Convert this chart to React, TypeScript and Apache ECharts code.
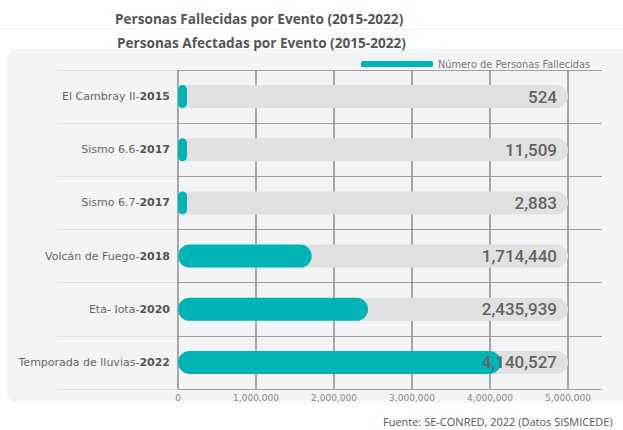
import React, { useEffect, useRef } from "react";
import * as echarts from "echarts";

const eventNames = ["El Cambray II-", "Sismo 6.6-", "Sismo 6.7-", "Volcán de Fuego-", "Eta- Iota-", "Temporada de lluvias-"];
const eventYears = ["2015", "2017", "2017", "2018", "2020", "2022"];
const affected = [524, 11509, 2883, 1714440, 2435939, 4140527];
const xTicks = [0, 1000000, 2000000, 3000000, 4000000, 5000000];
const seriesName = "Número de Personas Fallecidas";
const title1 = "Personas Fallecidas por Evento (2015-2022)";
const title2 = "Personas Afectadas por Evento (2015-2022)";
const footer = "Fuente: SE-CONRED, 2022 (Datos SISMICEDE)";

const FONT = "'Open Sans', 'Noto Sans', sans-serif";
const WIDE = "'DejaVu Sans', 'Open Sans', sans-serif";
const NUM = "Roboto, 'Liberation Sans', sans-serif";

export default function App() {
  const ref = useRef<HTMLDivElement>(null);
  useEffect(() => {
    if (!ref.current) return;
    const chart = echarts.init(ref.current, undefined, { renderer: "svg" });
    const xMax = xTicks[xTicks.length - 1];
    const cats = eventNames.map((n, i) => n + eventYears[i]);
    const fmt = (v: number) => v.toLocaleString("en-US");
    const gridTop = 70;
    const gridBottom = 41;
    chart.setOption({
      animation: false,
      backgroundColor: "#ffffff",
      title: [
        { text: title1, left: 110, top: 6, textStyle: { fontFamily: FONT, fontSize: 13.6, fontWeight: "bold", color: "#555555" } },
        { text: title2, left: 112, top: 30, textStyle: { fontFamily: FONT, fontSize: 13.6, fontWeight: "bold", color: "#555555" } },
      ],
      graphic: [
        { type: "rect", z: -10, shape: { x: 7, y: 49, width: 630, height: 354, r: 10 }, style: { fill: "#f3f4f6" } },
        { type: "line", z: -10, shape: { x1: 0, y1: 29, x2: 623, y2: 29 }, style: { stroke: "#f0f0f0", lineWidth: 1 } },
        { type: "text", x: 383, y: 421, style: { text: footer, fontFamily: FONT, fontSize: 11, fill: "#555555", textVerticalAlign: "middle" } },
      ],
      legend: {
        data: [seriesName],
        left: 356,
        top: 54,
        icon: "roundRect",
        itemWidth: 72,
        itemHeight: 6,
        itemGap: 6,
        textStyle: { fontFamily: WIDE, fontSize: 9.8, color: "#777777" },
      },
      grid: [
        { left: 57, right: 21, top: gridTop, bottom: gridBottom },
        { left: 178, right: 21, top: gridTop, bottom: gridBottom },
        { left: 178, right: 55, top: gridTop, bottom: gridBottom },
      ],
      xAxis: [
        { gridIndex: 0, type: "value", show: false },
        { gridIndex: 1, type: "value", show: false },
        {
          gridIndex: 2,
          type: "value",
          min: 0,
          max: xMax,
          interval: 1000000,
          axisLine: { show: false },
          axisTick: { show: false },
          splitLine: { show: true, lineStyle: { color: "#8e8e8e", width: 1.5 } },
          axisLabel: { formatter: fmt, fontFamily: WIDE, fontSize: 9, color: "#888888", margin: 4 },
        },
      ],
      yAxis: [
        {
          gridIndex: 0, type: "category", data: cats, inverse: true,
          axisLine: { show: false }, axisTick: { show: false }, axisLabel: { show: false },
          splitLine: { show: true, lineStyle: { color: "#e2e2e4", width: 1 } },
        },
        {
          gridIndex: 1, type: "category", data: cats, inverse: true,
          axisLine: { show: false }, axisTick: { show: false }, axisLabel: { show: false },
          splitLine: { show: true, lineStyle: { color: "#a0a0a0", width: 1 } },
        },
        {
          gridIndex: 2, type: "category", data: cats, inverse: true,
          axisLine: { show: false }, axisTick: { show: false }, splitLine: { show: false },
          axisLabel: {
            margin: 8,
            formatter: (_v: string, i: number) => `{n|${eventNames[i]}}{y|${eventYears[i]}}`,
            rich: {
              n: { fontFamily: WIDE, fontSize: 11, color: "#666666" },
              y: { fontFamily: WIDE, fontSize: 11, fontWeight: "bold", color: "#555555" },
            },
          },
        },
      ],
      series: [
        {
          type: "bar",
          name: "track",
          xAxisIndex: 2,
          yAxisIndex: 2,
          barWidth: 23,
          barGap: "-100%",
          silent: true,
          data: affected.map(() => xMax),
          itemStyle: { color: "#e0e1e3", borderRadius: 11.5 },
          label: {
            show: true,
            position: "insideRight",
            distance: 11,
            formatter: (p: any) => fmt(affected[p.dataIndex]),
            fontFamily: NUM,
            fontSize: 17,
            fontWeight: 500,
            color: "#636363",
          },
        },
        {
          type: "bar",
          name: seriesName,
          xAxisIndex: 2,
          yAxisIndex: 2,
          barWidth: 23,
          barGap: "-100%",
          barMinHeight: 9,
          data: affected,
          itemStyle: { color: "#00b4b6", borderRadius: 11.5 },
        },
      ],
    });
    return () => chart.dispose();
  }, []);
  return <div ref={ref} style={{ width: 623, height: 430, position: "absolute", left: 0, top: 0 }} />;
}
